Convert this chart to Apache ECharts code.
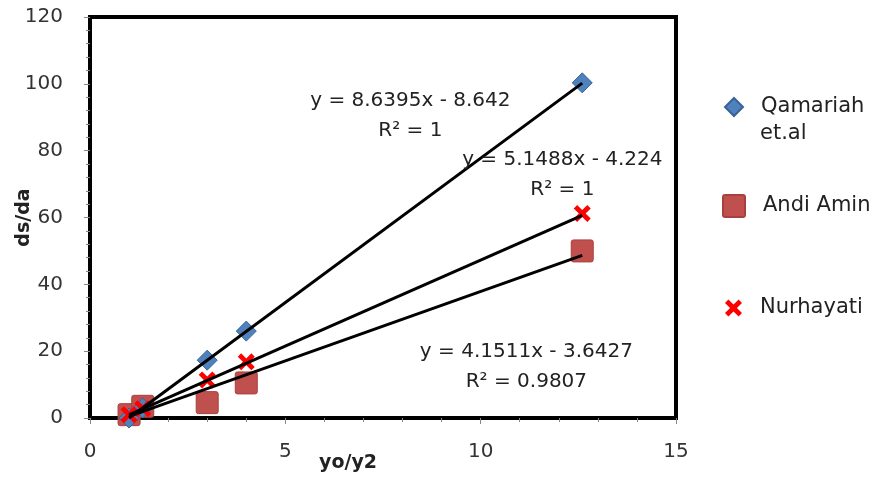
<!DOCTYPE html>
<html><head><meta charset="utf-8">
<script src="https://cdn.jsdelivr.net/npm/echarts@6/dist/echarts.min.js"></script>
<style>html,body{margin:0;padding:0;background:#fff}#c{width:876px;height:478px}</style>
</head><body><div id="c"></div>
<script>
// ---- data ----
const seriesNames = ['Qamariah', 'Andi Amin', 'Nurhayati'];
const xValues = [1, 1.35, 3, 4, 12.6];
const qamariahY = [0, 3, 17.3, 26, 100.3];
const andiAminY = [1, 3.5, 4.6, 10.5, 50];
const nurhayatiY = [1, 2.8, 11.4, 16.8, 61.2];
const trendSlope = [8.6395, 4.1511, 5.1488];
const trendIntercept = [-8.642, -3.6427, -4.224];
const trendLabels = [
  'y = 8.6395x - 8.642\nR² = 1',
  'y = 4.1511x - 3.6427\nR² = 0.9807',
  'y = 5.1488x - 4.224\nR² = 1'
];
const xTicks = [0, 5, 10, 15];
const yTicks = [0, 20, 40, 60, 80, 100, 120];

const FONT = 'DejaVu Sans';
const crossPath = 'path://M2,0 L5,3 L8,0 L10,2 L7,5 L10,8 L8,10 L5,7 L2,10 L0,8 L3,5 L0,2 Z';
const squarePath = 'path://M2,0 H18 Q20,0 20,2 V18 Q20,20 18,20 H2 Q0,20 0,18 V2 Q0,0 2,0 Z';
const pairs = ys => xValues.map((x, i) => [x, ys[i]]);
const xmin = Math.min(...xValues), xmax = Math.max(...xValues);
const trend = k => [[xmin, trendSlope[k] * xmin + trendIntercept[k]], [xmax, trendSlope[k] * xmax + trendIntercept[k]]];

const legendText = { fontFamily: FONT, fontSize: 21, color: '#222', lineHeight: 32, padding: [0, 0, 0, 13] };

const chart = echarts.init(document.getElementById('c'));
const option = {
  animation: false,
  grid: { left: 90, right: 200, top: 17, bottom: 60, show: true, borderColor: '#000', borderWidth: 4, backgroundColor: '#fff',
          containLabel: false, outerBoundsMode: 'none' },
  xAxis: {
    type: 'value', min: xTicks[0], max: xTicks[xTicks.length - 1], interval: 5,
    name: 'yo/y2', nameLocation: 'middle', nameGap: 36, nameMoveOverlap: false,
    nameTextStyle: { fontFamily: FONT, fontWeight: 'bold', fontSize: 19, color: '#222', padding: [0, 70, 0, 0] },
    axisLine: { lineStyle: { color: '#000', width: 3 } },
    axisTick: { show: true, length: 6, lineStyle: { color: '#888' } },
    minorTick: { show: true, splitNumber: 5, length: 4, lineStyle: { color: '#888' } },
    splitLine: { show: false },
    axisLabel: { fontFamily: FONT, fontSize: 20, color: '#333', margin: 24 }
  },
  yAxis: {
    type: 'value', min: yTicks[0], max: yTicks[yTicks.length - 1], interval: 20,
    name: 'ds/da', nameLocation: 'middle', nameGap: 56, nameRotate: 90, nameMoveOverlap: false,
    nameTextStyle: { fontFamily: FONT, fontWeight: 'bold', fontSize: 19, color: '#222' },
    axisLine: { lineStyle: { color: '#000', width: 4 } },
    axisTick: { show: true, length: 6, lineStyle: { color: '#888' } },
    minorTick: { show: true, splitNumber: 5, length: 4, lineStyle: { color: '#888' } },
    splitLine: { show: false },
    axisLabel: { fontFamily: FONT, fontSize: 20, color: '#333', margin: 27 }
  },
  legend: [
    { data: [seriesNames[0]], left: 719, top: 86, itemWidth: 18, itemHeight: 18, itemGap: 0, textStyle: legendText },
    { data: [seriesNames[1]], left: 717, top: 185, itemWidth: 22, itemHeight: 22, itemGap: 0, textStyle: legendText },
    { data: [seriesNames[2]], left: 720, top: 287, itemWidth: 17, itemHeight: 17, itemGap: 0, textStyle: legendText }
  ],
  series: [
    { name: seriesNames[0], type: 'scatter', symbol: 'diamond', symbolSize: 20, data: pairs(qamariahY),
      itemStyle: { color: '#4F81BD', borderColor: '#3A6296', borderWidth: 1, opacity: 1 }, z: 3 },
    { name: seriesNames[1], type: 'scatter', symbol: squarePath, symbolSize: 22, data: pairs(andiAminY),
      itemStyle: { color: '#C0504D', borderColor: '#A9403D', borderWidth: 1, opacity: 1 }, z: 2 },
    { name: seriesNames[2], type: 'scatter', symbol: crossPath, symbolSize: 17, data: pairs(nurhayatiY),
      itemStyle: { color: '#FF0000', opacity: 1 }, z: 4 },
    ...[0, 1, 2].map(k => ({
      type: 'line', data: trend(k), symbol: 'none', silent: true, z: 5,
      lineStyle: { color: '#000', width: 3 }
    }))
  ]
};
chart.setOption(option);

// equation labels placed at data coordinates (center x, top y)
const labelAnchors = [[8.2, 99.4], [11.17, 24.3], [12.09, 81.7]];
const g = labelAnchors.map((p, k) => {
  const px = chart.convertToPixel({ gridIndex: 0 }, p);
  return { type: 'text', x: px[0], y: px[1], z: 10,
    style: { text: trendLabels[k], fontFamily: FONT, fontSize: 20, fill: '#222', align: 'center', verticalAlign: 'top', lineHeight: 30 } };
});
g.push({ type: 'text', x: 760, y: 118, z: 10,
  style: { text: 'et.al', fontFamily: FONT, fontSize: 21, fill: '#222', align: 'left', verticalAlign: 'top', lineHeight: 32 } });
chart.setOption({ graphic: g });
</script></body></html>
